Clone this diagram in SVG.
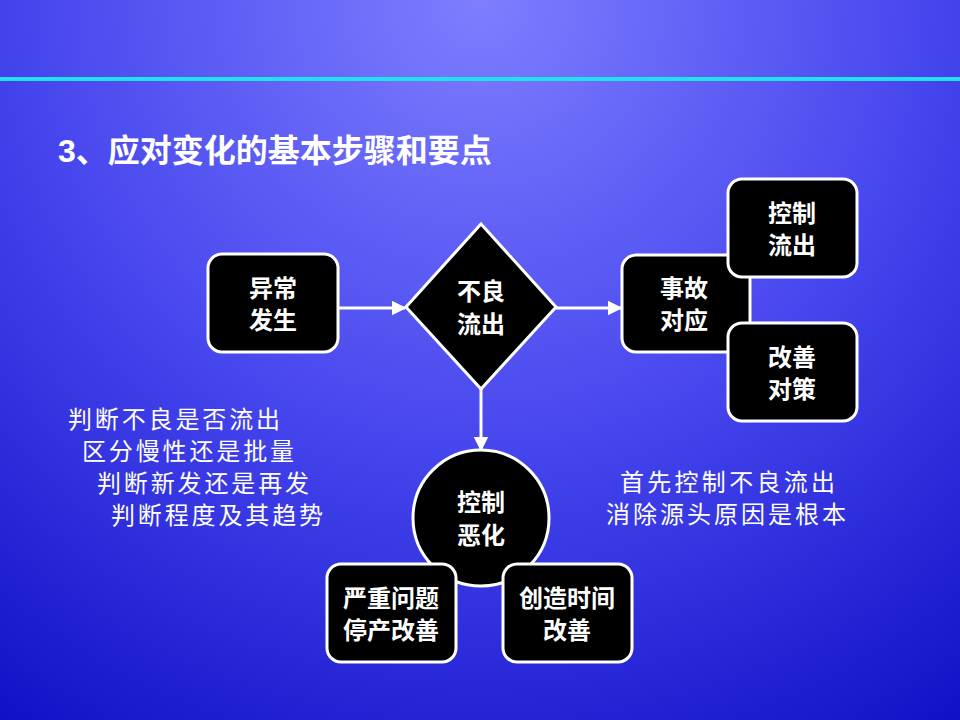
<svg xmlns="http://www.w3.org/2000/svg" width="960" height="720" viewBox="0 0 960 720">
<defs>
<radialGradient id="bg" cx="480" cy="0" r="900" gradientUnits="userSpaceOnUse">
<stop offset="0" stop-color="#7e7eff"/>
<stop offset="0.5" stop-color="#4646ee"/>
<stop offset="1" stop-color="#0c0cc4"/>
</radialGradient>
<marker id="ah" viewBox="0 0 10 10" refX="9" refY="5" markerWidth="5" markerHeight="5" orient="auto"><path d="M0,0 L10,5 L0,10 z" fill="#fff"/></marker>
<style>
.n{fill:#000;stroke:#fff;stroke-width:3}
.t{fill:#fff;font-family:"Liberation Sans","Noto Sans CJK SC",sans-serif;font-size:24px;font-weight:bold;text-anchor:middle}
.s{fill:#fff;font-family:"Noto Sans CJK SC",sans-serif;font-size:24px}
.c{stroke:#fff;stroke-width:3;fill:none;marker-end:url(#ah)}
</style>
</defs>
<rect width="960" height="720" fill="url(#bg)"/>
<rect x="0" y="77" width="960" height="4" fill="#22e0f0"/>
<text x="58" y="162" fill="#fff" font-family="Liberation Sans,'Noto Sans CJK SC',sans-serif" font-size="32" font-weight="bold">3、应对变化的基本步骤和要点</text>
<g id="connectors">
<line class="c" x1="338" y1="308" x2="405" y2="308"/>
<line class="c" x1="556" y1="308" x2="621" y2="308"/>
<line class="c" x1="481" y1="389" x2="481" y2="450"/>
</g>
<g id="n1"><rect class="n" x="208" y="254" width="130" height="98" rx="14"/><text class="t" x="273" y="297">异常</text><text class="t" x="273" y="329">发生</text></g>
<g id="n2"><polygon class="n" points="481,224 556,307 481,389 406,307"/><text class="t" x="481" y="300">不良</text><text class="t" x="481" y="333">流出</text></g>
<g id="n3"><rect class="n" x="622" y="255" width="128" height="97" rx="14"/><text class="t" x="684" y="297">事故</text><text class="t" x="684" y="329">对应</text></g>
<g id="n4"><rect class="n" x="728" y="179" width="129" height="98" rx="14"/><text class="t" x="792" y="222">控制</text><text class="t" x="792" y="254">流出</text></g>
<g id="n5"><rect class="n" x="728" y="323" width="129" height="98" rx="14"/><text class="t" x="792" y="366">改善</text><text class="t" x="792" y="398">对策</text></g>
<g id="n6"><circle class="n" cx="481" cy="518" r="68"/><text class="t" x="481" y="511">控制</text><text class="t" x="481" y="544">恶化</text></g>
<g id="n7"><rect class="n" x="327" y="564" width="129" height="98" rx="14"/><text class="t" x="391" y="607">严重问题</text><text class="t" x="391" y="639">停产改善</text></g>
<g id="n8"><rect class="n" x="503" y="564" width="129" height="98" rx="14"/><text class="t" x="567" y="607">创造时间</text><text class="t" x="567" y="639">改善</text></g>
<g id="notes">
<text class="s" x="68" y="428" textLength="212">判断不良是否流出</text>
<text class="s" x="82" y="460" textLength="212">区分慢性还是批量</text>
<text class="s" x="97" y="492" textLength="212">判断新发还是再发</text>
<text class="s" x="111" y="524" textLength="212">判断程度及其趋势</text>
<text class="s" x="620" y="491" textLength="215">首先控制不良流出</text>
<text class="s" x="606" y="523" textLength="240">消除源头原因是根本</text>
</g>
</svg>
